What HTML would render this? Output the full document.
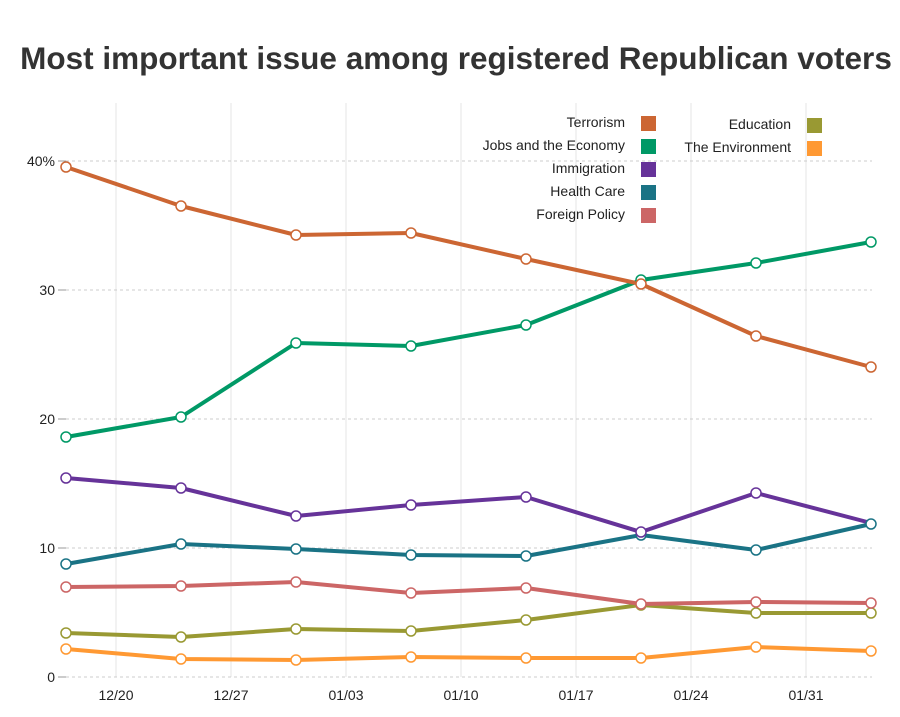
<!DOCTYPE html>
<html><head><meta charset="utf-8"><style>
body{margin:0;background:#fff;}
svg{display:block;font-family:"Liberation Sans",Arial,sans-serif;}
</style></head><body>
<svg width="900" height="717" viewBox="0 0 900 717" xmlns="http://www.w3.org/2000/svg">
<rect width="900" height="717" fill="#fff"/>
<text x="456" y="69" text-anchor="middle" font-size="31.5" font-weight="bold" fill="#333">Most important issue among registered Republican voters</text>
<g stroke="#e6e6e6" stroke-width="1">
<line x1="116" y1="103" x2="116" y2="677"/><line x1="231" y1="103" x2="231" y2="677"/>
<line x1="346" y1="103" x2="346" y2="677"/><line x1="461" y1="103" x2="461" y2="677"/>
<line x1="576" y1="103" x2="576" y2="677"/><line x1="691" y1="103" x2="691" y2="677"/>
<line x1="806" y1="103" x2="806" y2="677"/>
</g>
<g stroke="#ccc" stroke-width="1" stroke-dasharray="3,3">
<line x1="66" y1="161" x2="872" y2="161"/><line x1="66" y1="290" x2="872" y2="290"/>
<line x1="66" y1="419" x2="872" y2="419"/><line x1="66" y1="548" x2="872" y2="548"/>
<line x1="66" y1="677" x2="872" y2="677"/>
</g>
<g stroke="#999" stroke-width="1">
<line x1="58" y1="161" x2="66" y2="161"/><line x1="58" y1="290" x2="66" y2="290"/>
<line x1="58" y1="419" x2="66" y2="419"/><line x1="58" y1="548" x2="66" y2="548"/>
<line x1="58" y1="677" x2="66" y2="677"/>
</g>
<g font-size="14" fill="#222" text-anchor="end">
<text x="55" y="166">40%</text><text x="55" y="295">30</text><text x="55" y="424">20</text><text x="55" y="553">10</text><text x="55" y="682">0</text>
</g>
<g font-size="14" fill="#222" text-anchor="middle">
<text x="116" y="700">12/20</text><text x="231" y="700">12/27</text><text x="346" y="700">01/03</text><text x="461" y="700">01/10</text><text x="576" y="700">01/17</text><text x="691" y="700">01/24</text><text x="806" y="700">01/31</text>
</g>
<g font-size="14" fill="#222" text-anchor="end">
<text x="625" y="127">Terrorism</text><text x="625" y="150">Jobs and the Economy</text><text x="625" y="173">Immigration</text><text x="625" y="196">Health Care</text><text x="625" y="219">Foreign Policy</text>
<text x="791" y="129">Education</text><text x="791" y="152">The Environment</text>
</g>
<rect x="641" y="116" width="15" height="15" fill="#cc6633"/>
<rect x="641" y="139" width="15" height="15" fill="#009966"/>
<rect x="641" y="162" width="15" height="15" fill="#663399"/>
<rect x="641" y="185" width="15" height="15" fill="#1a7385"/>
<rect x="641" y="208" width="15" height="15" fill="#cc6666"/>
<rect x="807" y="118" width="15" height="15" fill="#999933"/>
<rect x="807" y="141" width="15" height="15" fill="#ff9933"/>
<g fill="none" stroke-width="4" stroke-linejoin="round">
<polyline stroke="#ff9933" points="66,649 181,659 296,660 411,657 526,658 641,658 756,647 871,651"/>
<polyline stroke="#999933" points="66,633 181,637 296,629 411,631 526,620 641,605 756,613 871,613"/>
<polyline stroke="#cc6666" points="66,587 181,586 296,582 411,593 526,588 641,604 756,602 871,603"/>
<polyline stroke="#1a7385" points="66,564 181,544 296,549 411,555 526,556 641,535 756,550 871,524"/>
<polyline stroke="#663399" points="66,478 181,488 296,516 411,505 526,497 641,532 756,493 871,523"/>
<polyline stroke="#009966" points="66,437 181,417 296,343 411,346 526,325 641,280 756,263 871,242"/>
<polyline stroke="#cc6633" points="66,167 181,206 296,235 411,233 526,259 641,284 756,336 871,367"/>
</g>
<g fill="#fff" stroke-width="1.5">
<g stroke="#ff9933"><circle cx="66" cy="649" r="5"/><circle cx="181" cy="659" r="5"/><circle cx="296" cy="660" r="5"/><circle cx="411" cy="657" r="5"/><circle cx="526" cy="658" r="5"/><circle cx="641" cy="658" r="5"/><circle cx="756" cy="647" r="5"/><circle cx="871" cy="651" r="5"/></g>
<g stroke="#999933"><circle cx="66" cy="633" r="5"/><circle cx="181" cy="637" r="5"/><circle cx="296" cy="629" r="5"/><circle cx="411" cy="631" r="5"/><circle cx="526" cy="620" r="5"/><circle cx="641" cy="605" r="5"/><circle cx="756" cy="613" r="5"/><circle cx="871" cy="613" r="5"/></g>
<g stroke="#cc6666"><circle cx="66" cy="587" r="5"/><circle cx="181" cy="586" r="5"/><circle cx="296" cy="582" r="5"/><circle cx="411" cy="593" r="5"/><circle cx="526" cy="588" r="5"/><circle cx="641" cy="604" r="5"/><circle cx="756" cy="602" r="5"/><circle cx="871" cy="603" r="5"/></g>
<g stroke="#1a7385"><circle cx="66" cy="564" r="5"/><circle cx="181" cy="544" r="5"/><circle cx="296" cy="549" r="5"/><circle cx="411" cy="555" r="5"/><circle cx="526" cy="556" r="5"/><circle cx="641" cy="535" r="5"/><circle cx="756" cy="550" r="5"/><circle cx="871" cy="524" r="5"/></g>
<g stroke="#663399"><circle cx="66" cy="478" r="5"/><circle cx="181" cy="488" r="5"/><circle cx="296" cy="516" r="5"/><circle cx="411" cy="505" r="5"/><circle cx="526" cy="497" r="5"/><circle cx="641" cy="532" r="5"/><circle cx="756" cy="493" r="5"/></g>
<g stroke="#009966"><circle cx="66" cy="437" r="5"/><circle cx="181" cy="417" r="5"/><circle cx="296" cy="343" r="5"/><circle cx="411" cy="346" r="5"/><circle cx="526" cy="325" r="5"/><circle cx="641" cy="280" r="5"/><circle cx="756" cy="263" r="5"/><circle cx="871" cy="242" r="5"/></g>
<g stroke="#cc6633"><circle cx="66" cy="167" r="5"/><circle cx="181" cy="206" r="5"/><circle cx="296" cy="235" r="5"/><circle cx="411" cy="233" r="5"/><circle cx="526" cy="259" r="5"/><circle cx="641" cy="284" r="5"/><circle cx="756" cy="336" r="5"/><circle cx="871" cy="367" r="5"/></g>
</g>
</svg>
</body></html>
